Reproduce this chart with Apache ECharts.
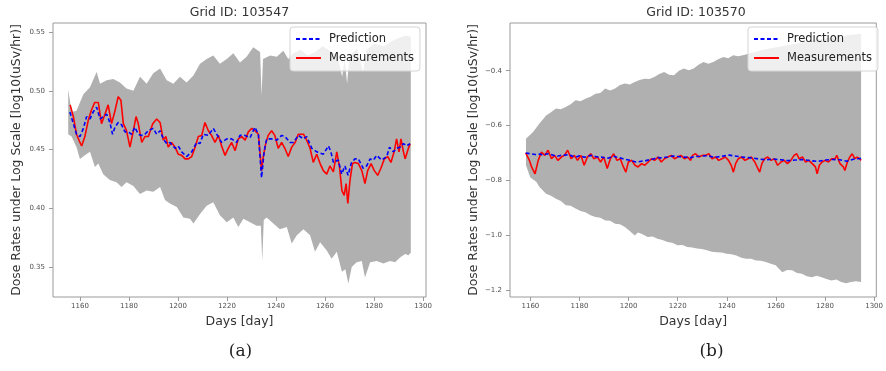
<!DOCTYPE html>
<html>
<head>
<meta charset="utf-8">
<script src="https://cdn.jsdelivr.net/npm/echarts@6/dist/echarts.min.js"></script>
<style>
html,body{margin:0;padding:0;background:#fff;}
#main{width:886px;height:371px;}
</style>
</head>
<body>
<div id="main"></div>
<script>
// ---------- Data ----------
const titles = ['Grid ID: 103547', 'Grid ID: 103570'];
const panelLabels = ['(a)', '(b)'];
const seriesNames = ['Prediction', 'Measurements'];
const xTicks = [1160, 1180, 1200, 1220, 1240, 1260, 1280, 1300];
const yTicksA = [0.35, 0.40, 0.45, 0.50, 0.55];
const yTicksB = [-1.2, -1.0, -0.8, -0.6, -0.4];

// Panel (a) — [day, value]
const measA = [[1156.0,0.488],[1157.3,0.478],[1158.6,0.463],[1160.0,0.456],[1160.7,0.453],[1162.0,0.461],[1163.4,0.475],[1164.6,0.483],[1166.0,0.490],[1167.5,0.490],[1168.8,0.472],[1170.2,0.480],[1171.5,0.488],[1172.9,0.472],[1174.3,0.483],[1175.6,0.495],[1176.7,0.492],[1177.7,0.472],[1179.0,0.466],[1180.4,0.452],[1181.8,0.466],[1182.9,0.478],[1183.8,0.472],[1185.2,0.456],[1186.5,0.461],[1187.9,0.461],[1189.7,0.472],[1191.3,0.476],[1192.7,0.473],[1194.0,0.458],[1195.1,0.461],[1196.0,0.452],[1197.4,0.456],[1198.8,0.452],[1200.1,0.446],[1201.5,0.445],[1202.9,0.442],[1204.2,0.442],[1205.6,0.444],[1207.0,0.452],[1208.3,0.461],[1209.7,0.462],[1211.0,0.473],[1212.4,0.466],[1213.7,0.462],[1215.1,0.456],[1216.5,0.462],[1217.8,0.453],[1219.2,0.445],[1220.5,0.451],[1221.9,0.456],[1223.3,0.449],[1224.6,0.459],[1226.0,0.461],[1227.4,0.458],[1228.7,0.465],[1230.1,0.468],[1231.4,0.466],[1232.8,0.463],[1233.4,0.449],[1234.1,0.432],[1234.8,0.444],[1235.8,0.455],[1236.8,0.462],[1238.2,0.466],[1239.5,0.462],[1240.9,0.451],[1242.3,0.456],[1243.6,0.451],[1245.0,0.444],[1246.4,0.452],[1247.8,0.456],[1249.1,0.463],[1251.2,0.463],[1252.5,0.458],[1253.9,0.451],[1255.2,0.439],[1256.6,0.446],[1258.0,0.438],[1259.3,0.432],[1260.7,0.429],[1262.0,0.436],[1263.4,0.431],[1264.8,0.448],[1265.9,0.435],[1266.9,0.415],[1267.8,0.411],[1268.6,0.421],[1269.3,0.404],[1270.2,0.424],[1271.2,0.438],[1272.2,0.439],[1273.6,0.438],[1275.0,0.432],[1276.3,0.421],[1277.4,0.432],[1278.8,0.438],[1280.1,0.432],[1281.5,0.428],[1282.8,0.434],[1284.2,0.442],[1285.6,0.444],[1286.9,0.439],[1288.3,0.449],[1289.2,0.459],[1290.2,0.448],[1291.0,0.459],[1292.0,0.448],[1292.7,0.442],[1293.7,0.449],[1294.7,0.455]];
const predA = [[1155.9,0.482],[1157.3,0.472],[1158.6,0.463],[1160.0,0.461],[1161.4,0.468],[1162.7,0.478],[1164.1,0.476],[1165.4,0.482],[1166.8,0.486],[1168.2,0.476],[1169.5,0.478],[1170.9,0.480],[1172.2,0.473],[1173.3,0.463],[1174.3,0.469],[1175.6,0.473],[1177.0,0.471],[1178.4,0.465],[1179.7,0.465],[1181.1,0.463],[1182.4,0.469],[1183.8,0.463],[1185.2,0.462],[1186.5,0.463],[1187.9,0.466],[1189.9,0.468],[1191.3,0.463],[1192.7,0.466],[1194.0,0.459],[1195.4,0.455],[1196.7,0.456],[1198.8,0.451],[1200.1,0.453],[1201.5,0.448],[1203.5,0.444],[1205.6,0.448],[1207.6,0.456],[1209.0,0.455],[1210.3,0.463],[1212.4,0.462],[1214.4,0.468],[1215.8,0.463],[1217.8,0.456],[1219.9,0.459],[1221.9,0.459],[1223.9,0.456],[1225.3,0.462],[1227.3,0.462],[1229.4,0.460],[1231.4,0.469],[1232.8,0.463],[1234.1,0.426],[1235.2,0.449],[1236.2,0.459],[1238.2,0.459],[1240.3,0.458],[1242.3,0.462],[1243.7,0.461],[1245.7,0.456],[1247.1,0.456],[1249.1,0.462],[1251.2,0.459],[1252.5,0.461],[1254.6,0.451],[1256.6,0.448],[1259.3,0.446],[1261.4,0.453],[1262.4,0.448],[1263.4,0.439],[1265.4,0.441],[1266.8,0.429],[1268.1,0.436],[1269.4,0.428],[1270.8,0.439],[1272.2,0.442],[1273.6,0.442],[1275.6,0.434],[1277.0,0.436],[1278.4,0.442],[1279.7,0.441],[1281.1,0.445],[1283.1,0.441],[1285.2,0.444],[1286.3,0.452],[1287.9,0.448],[1289.2,0.451],[1290.6,0.452],[1292.0,0.455],[1293.3,0.453],[1294.7,0.455]];
const bandHiA = [[1155.2,0.501],[1156.6,0.482],[1158.6,0.483],[1161.4,0.497],[1164.1,0.503],[1166.8,0.516],[1168.2,0.506],[1170.9,0.509],[1173.6,0.510],[1176.3,0.507],[1179.0,0.502],[1181.8,0.500],[1184.5,0.512],[1187.2,0.506],[1189.9,0.515],[1192.7,0.519],[1195.4,0.509],[1198.1,0.506],[1200.8,0.512],[1203.5,0.507],[1206.3,0.513],[1209.0,0.523],[1211.7,0.527],[1214.4,0.530],[1217.1,0.523],[1219.9,0.527],[1222.6,0.532],[1225.3,0.524],[1228.0,0.529],[1230.7,0.537],[1233.5,0.533],[1234.1,0.496],[1234.7,0.527],[1237.6,0.530],[1240.3,0.529],[1243.0,0.534],[1245.0,0.527],[1247.0,0.532],[1250.0,0.535],[1253.0,0.530],[1256.0,0.533],[1259.0,0.538],[1262.0,0.534],[1265.0,0.530],[1267.0,0.512],[1268.0,0.528],[1269.0,0.506],[1270.0,0.530],[1273.0,0.536],[1275.5,0.516],[1277.0,0.535],[1280.0,0.540],[1284.0,0.538],[1287.0,0.542],[1290.0,0.545],[1293.0,0.547],[1295.0,0.546]];
const bandLoA = [[1155.2,0.463],[1156.6,0.461],[1158.6,0.452],[1160.0,0.442],[1162.0,0.445],[1164.1,0.448],[1166.1,0.435],[1167.5,0.438],[1169.5,0.429],[1172.2,0.424],[1174.9,0.422],[1177.0,0.418],[1179.0,0.422],[1181.8,0.419],[1184.5,0.412],[1187.2,0.415],[1189.9,0.414],[1192.7,0.418],[1194.7,0.407],[1196.7,0.404],[1199.5,0.401],[1202.2,0.392],[1204.9,0.391],[1206.3,0.387],[1209.0,0.395],[1211.7,0.402],[1214.4,0.405],[1217.1,0.394],[1219.9,0.388],[1222.6,0.392],[1224.6,0.384],[1226.7,0.391],[1229.4,0.388],[1232.1,0.385],[1233.8,0.385],[1234.4,0.355],[1235.0,0.390],[1236.2,0.392],[1238.9,0.387],[1241.6,0.382],[1244.4,0.384],[1246.4,0.370],[1248.5,0.377],[1251.2,0.382],[1253.9,0.377],[1255.9,0.363],[1258.0,0.371],[1260.7,0.364],[1262.7,0.357],[1264.8,0.363],[1266.9,0.346],[1268.3,0.348],[1269.5,0.336],[1270.9,0.350],[1272.9,0.354],[1275.0,0.355],[1276.3,0.341],[1278.4,0.354],[1281.1,0.355],[1283.8,0.353],[1286.5,0.355],[1288.6,0.354],[1290.6,0.358],[1292.7,0.361],[1294.0,0.360],[1295.0,0.362]];

// Panel (b) — [day, value]
const measB = [[1158.1,-0.700],[1158.5,-0.703],[1159.6,-0.727],[1160.5,-0.751],[1161.9,-0.776],[1163.2,-0.727],[1164.5,-0.697],[1165.9,-0.709],[1167.2,-0.690],[1168.6,-0.721],[1169.9,-0.709],[1171.2,-0.727],[1172.6,-0.715],[1173.9,-0.709],[1175.2,-0.690],[1176.6,-0.721],[1177.9,-0.709],[1179.2,-0.727],[1180.6,-0.709],[1181.9,-0.745],[1183.2,-0.715],[1184.6,-0.703],[1185.9,-0.721],[1187.3,-0.715],[1188.6,-0.733],[1189.9,-0.715],[1191.3,-0.757],[1192.6,-0.721],[1193.9,-0.703],[1195.3,-0.727],[1196.6,-0.721],[1197.9,-0.751],[1198.9,-0.770],[1199.9,-0.733],[1201.3,-0.727],[1202.6,-0.745],[1203.9,-0.751],[1205.3,-0.739],[1206.6,-0.745],[1208.0,-0.733],[1209.3,-0.721],[1210.6,-0.727],[1212.0,-0.715],[1213.3,-0.733],[1214.6,-0.721],[1216.0,-0.715],[1217.3,-0.709],[1218.7,-0.721],[1220.0,-0.715],[1221.3,-0.709],[1222.7,-0.721],[1224.0,-0.715],[1225.3,-0.727],[1226.0,-0.709],[1227.3,-0.703],[1228.7,-0.715],[1230.0,-0.709],[1231.3,-0.709],[1232.7,-0.703],[1234.0,-0.721],[1235.4,-0.715],[1236.7,-0.727],[1238.0,-0.721],[1239.4,-0.715],[1240.7,-0.727],[1241.8,-0.745],[1242.7,-0.770],[1243.6,-0.739],[1244.7,-0.721],[1246.0,-0.715],[1247.4,-0.727],[1248.7,-0.721],[1250.0,-0.715],[1251.4,-0.733],[1252.7,-0.757],[1253.4,-0.770],[1254.3,-0.739],[1255.4,-0.721],[1256.7,-0.715],[1258.1,-0.727],[1259.4,-0.721],[1260.7,-0.745],[1262.1,-0.733],[1263.4,-0.727],[1264.7,-0.739],[1266.1,-0.727],[1267.4,-0.709],[1268.5,-0.703],[1269.4,-0.721],[1270.8,-0.715],[1272.1,-0.733],[1273.4,-0.727],[1274.8,-0.739],[1276.1,-0.751],[1276.8,-0.776],[1277.7,-0.745],[1278.8,-0.733],[1280.1,-0.727],[1281.4,-0.733],[1282.8,-0.721],[1284.1,-0.721],[1284.8,-0.709],[1286.1,-0.739],[1287.5,-0.751],[1288.1,-0.764],[1289.1,-0.733],[1290.1,-0.715],[1291.1,-0.703],[1292.1,-0.721],[1293.1,-0.715],[1294.1,-0.721],[1294.7,-0.727]];
const predB = [[1158.1,-0.700],[1160,-0.703],[1162,-0.706],[1164,-0.704],[1165,-0.708],[1167,-0.703],[1168,-0.705],[1170,-0.710],[1171,-0.712],[1173,-0.707],[1174,-0.708],[1176,-0.706],[1177,-0.712],[1179,-0.714],[1180,-0.710],[1182,-0.716],[1183,-0.712],[1185,-0.709],[1186,-0.712],[1188,-0.716],[1189,-0.715],[1191,-0.720],[1192,-0.718],[1194,-0.712],[1195,-0.715],[1197,-0.719],[1198,-0.722],[1200,-0.726],[1201,-0.728],[1203,-0.733],[1204,-0.732],[1206,-0.729],[1207,-0.728],[1209,-0.724],[1210,-0.722],[1212,-0.717],[1213,-0.718],[1215,-0.716],[1216,-0.715],[1218,-0.711],[1219,-0.712],[1221,-0.714],[1222,-0.715],[1224,-0.716],[1225,-0.718],[1227,-0.713],[1229,-0.712],[1232,-0.710],[1235,-0.716],[1238,-0.712],[1241,-0.708],[1244,-0.712],[1247,-0.716],[1250,-0.718],[1253,-0.722],[1256,-0.725],[1259,-0.722],[1262,-0.725],[1265,-0.728],[1268,-0.726],[1271,-0.724],[1274,-0.728],[1277,-0.731],[1280,-0.726],[1283,-0.724],[1286,-0.725],[1289,-0.730],[1292,-0.722],[1294.7,-0.720]];
const bandHiB = [[1158.2,-0.648],[1161.1,-0.624],[1163.7,-0.593],[1166.4,-0.563],[1168.4,-0.552],[1170.4,-0.538],[1172.4,-0.541],[1174.4,-0.532],[1176.4,-0.522],[1178.4,-0.508],[1180.4,-0.511],[1182.4,-0.502],[1184.5,-0.495],[1186.5,-0.484],[1188.5,-0.481],[1190.5,-0.465],[1192.5,-0.472],[1194.5,-0.465],[1196.5,-0.452],[1198.5,-0.447],[1200.5,-0.450],[1202.5,-0.441],[1204.5,-0.434],[1206.5,-0.429],[1208.5,-0.430],[1210.5,-0.423],[1212.5,-0.412],[1214.5,-0.405],[1216.5,-0.415],[1218.5,-0.417],[1220.5,-0.400],[1222.5,-0.392],[1224.5,-0.398],[1226.5,-0.392],[1228.5,-0.378],[1230.5,-0.368],[1232.5,-0.375],[1234.5,-0.368],[1236.5,-0.358],[1238.6,-0.350],[1240.6,-0.355],[1242.6,-0.344],[1244.6,-0.347],[1246.6,-0.344],[1250,-0.335],[1254,-0.325],[1258,-0.318],[1262,-0.312],[1266,-0.305],[1270,-0.298],[1274,-0.290],[1278,-0.285],[1282,-0.280],[1286,-0.275],[1290,-0.270],[1294.7,-0.265]];
const bandLoB = [[1158.2,-0.745],[1160.0,-0.790],[1162.4,-0.805],[1163.7,-0.824],[1166.4,-0.849],[1168.4,-0.856],[1170.4,-0.867],[1172.4,-0.875],[1174.4,-0.891],[1176.4,-0.893],[1178.4,-0.903],[1180.4,-0.912],[1182.4,-0.916],[1184.5,-0.927],[1186.5,-0.934],[1188.5,-0.936],[1190.5,-0.946],[1192.5,-0.947],[1194.5,-0.958],[1196.5,-0.960],[1198.5,-0.970],[1200.5,-0.985],[1202.5,-1.001],[1203.8,-0.990],[1205.2,-0.995],[1207.8,-1.007],[1209.8,-1.005],[1211.8,-1.013],[1213.8,-1.018],[1215.8,-1.025],[1217.8,-1.028],[1219.9,-1.037],[1221.9,-1.036],[1223.9,-1.043],[1225.9,-1.045],[1227.9,-1.049],[1229.9,-1.050],[1231.9,-1.055],[1233.9,-1.060],[1235.9,-1.062],[1237.9,-1.063],[1239.9,-1.068],[1241.9,-1.070],[1243.9,-1.074],[1245.9,-1.082],[1247.9,-1.086],[1249.9,-1.086],[1251.9,-1.092],[1253.9,-1.093],[1255.9,-1.098],[1257.9,-1.104],[1259.9,-1.110],[1262.6,-1.135],[1264.6,-1.127],[1266.6,-1.128],[1268.6,-1.138],[1270.6,-1.141],[1272.6,-1.150],[1274.6,-1.153],[1276.6,-1.148],[1278.6,-1.153],[1280.6,-1.160],[1282.6,-1.165],[1284.6,-1.162],[1286.6,-1.171],[1288.6,-1.175],[1290.6,-1.171],[1292.6,-1.168],[1294.7,-1.171]];

// ---------- Styling ----------
const FONT = 'DejaVu Sans';
const BAND = '#b0b0b0';
const FRAME = '#9a9a9a';
const TXT = '#333';
const TICKTXT = '#505050';

const chart = echarts.init(document.getElementById('main'), null, {renderer: 'canvas'});

function bandSeries(idx, hi, lo) {
  return {
    type: 'custom', xAxisIndex: idx, yAxisIndex: idx, z: 1, silent: true,
    data: [hi[0]],
    renderItem: function (params, api) {
      const pts = [];
      for (let i = 0; i < hi.length; i++) pts.push(api.coord(hi[i]));
      for (let i = lo.length - 1; i >= 0; i--) pts.push(api.coord(lo[i]));
      return {type: 'polygon', shape: {points: pts}, style: {fill: BAND, stroke: null}};
    }
  };
}
function lineSeries(idx, name, data, color, dashed) {
  return {
    type: 'line', name: name, xAxisIndex: idx, yAxisIndex: idx, data: data,
    symbol: 'none', z: dashed ? 4 : 3, silent: true,
    lineStyle: {color: color, width: 1.6, type: dashed ? [4, 2.5] : 'solid'},
    itemStyle: {color: color}
  };
}
function xAxis(idx, min, max) {
  return {
    gridIndex: idx, type: 'value', min: min, max: max,
    name: 'Days [day]', nameLocation: 'middle', nameGap: 16,
    nameTextStyle: {fontFamily: FONT, fontSize: 12.5, color: TXT},
    axisLine: {show: false},
    axisTick: {show: true, length: 4, customValues: xTicks, lineStyle: {color: FRAME}},
    axisLabel: {customValues: xTicks, margin: 6, fontFamily: FONT, fontSize: 7, color: TICKTXT,
      formatter: v => String(v)},
    splitLine: {show: false}
  };
}
function yAxis(idx, min, max, ticks, dec) {
  return {
    gridIndex: idx, type: 'value', min: min, max: max,
    name: 'Dose Rates under Log Scale [log10(uSv/hr)]', nameLocation: 'middle', nameGap: 30,
    nameTextStyle: {fontFamily: FONT, fontSize: 12.4, color: TXT},
    axisLine: {show: false},
    axisTick: {show: true, length: 4, customValues: ticks, lineStyle: {color: FRAME}},
    axisLabel: {customValues: ticks, margin: 8, fontFamily: FONT, fontSize: 7, color: TICKTXT,
      formatter: v => v.toFixed(dec).replace('-', '\u2212')},
    splitLine: {show: false}
  };
}
function legend(left) {
  return {
    left: left, top: 27, orient: 'vertical', data: seriesNames,
    itemWidth: 25, itemHeight: 10, itemGap: 7, padding: [6, 6, 7, 5],
    backgroundColor: 'rgba(255,255,255,0.8)', borderColor: '#d4d4d4', borderWidth: 1, borderRadius: 3,
    itemStyle: {opacity: 0},
    textStyle: {fontFamily: FONT, fontSize: 11.5, color: '#222', padding: [0, 0, 0, 3]},
    selectedMode: false
  };
}

chart.setOption({
  animation: false,
  backgroundColor: '#fff',
  title: [
    {text: titles[0], left: 239.5, top: 6, textAlign: 'center', padding: 0,
     textStyle: {fontFamily: FONT, fontSize: 12.5, fontWeight: 'normal', color: TXT}},
    {text: titles[1], left: 696, top: 6, textAlign: 'center', padding: 0,
     textStyle: {fontFamily: FONT, fontSize: 12.5, fontWeight: 'normal', color: TXT}},
    {text: panelLabels[0], left: 240.5, top: 343, textAlign: 'center', padding: 0,
     textStyle: {fontFamily: 'DejaVu Serif', fontSize: 17, fontWeight: 'normal', color: '#222'}},
    {text: panelLabels[1], left: 711.5, top: 343, textAlign: 'center', padding: 0,
     textStyle: {fontFamily: 'DejaVu Serif', fontSize: 17, fontWeight: 'normal', color: '#222'}}
  ],
  legend: [legend(290), legend(748)],
  grid: [
    {left: 53, width: 373, top: 23, height: 274, show: true, borderColor: FRAME, borderWidth: 1, backgroundColor: 'transparent', containLabel: false},
    {left: 510, width: 372, top: 23, height: 274, show: true, borderColor: FRAME, borderWidth: 1, backgroundColor: 'transparent', containLabel: false}
  ],
  xAxis: [xAxis(0, 1149, 1301.2), xAxis(1, 1151.7, 1300.9)],
  yAxis: [yAxis(0, 0.3244, 0.5577, yTicksA, 2), yAxis(1, -1.2255, -0.226, yTicksB, 1)],
  series: [
    bandSeries(0, bandHiA, bandLoA),
    lineSeries(0, seriesNames[1], measA, '#ff0000', false),
    lineSeries(0, seriesNames[0], predA, '#0000ff', true),
    bandSeries(1, bandHiB, bandLoB),
    lineSeries(1, seriesNames[1], measB, '#ff0000', false),
    lineSeries(1, seriesNames[0], predB, '#0000ff', true)
  ]
});
</script>
</body>
</html>
